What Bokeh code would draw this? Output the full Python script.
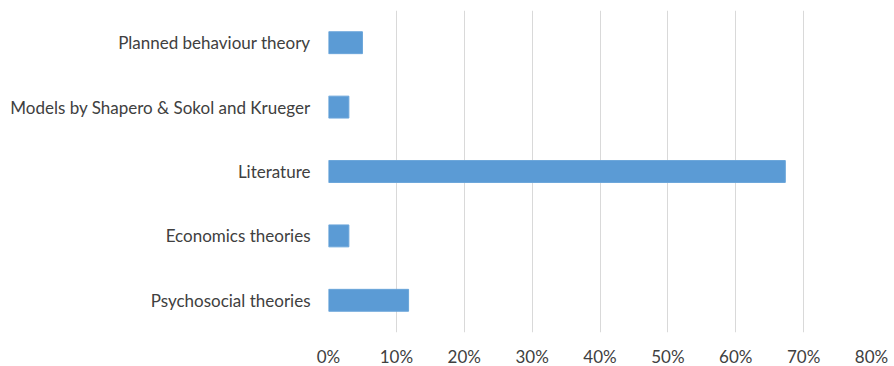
from bokeh.plotting import figure
from bokeh.models import FactorRange, FixedTicker, CustomJSTickFormatter
from bokeh.embed import file_html
from bokeh.resources import INLINE

# Share of studies by theoretical basis (percent)
categories = [
    "Psychosocial theories",
    "Economics theories",
    "Literature",
    "Models by Shapero & Sokol and Krueger",
    "Planned behaviour theory",
]
shares = [11.8, 3.0, 67.3, 3.0, 5.0]
x_ticks = [0, 10, 20, 30, 40, 50, 60, 70, 80]

FONT = "Lato"
TEXT_COLOR = "#404040"

p = figure(
    y_range=FactorRange(factors=categories),
    x_range=(0, 80),
    frame_width=543,
    frame_height=322,
    min_border_left=328,
    min_border_right=23,
    min_border_top=10,
    min_border_bottom=30,
    output_backend="svg",
    toolbar_location=None,
    background_fill_color="white",
    border_fill_color="white",
)
p.outline_line_color = None

p.hbar(y=categories, right=shares, left=0, height=0.34,
       fill_color="#5B9BD5", line_color="#6aa5da", line_width=1)

# x axis: percent ticks with vertical gridlines
p.xaxis.ticker = FixedTicker(ticks=x_ticks)
p.xaxis.formatter = CustomJSTickFormatter(code="return tick + '%';")
p.xaxis.axis_line_color = None
p.xaxis.major_tick_line_color = None
p.xaxis.minor_tick_line_color = None
p.xaxis.major_tick_out = 0
p.xaxis.major_tick_in = 0
p.xaxis.major_label_standoff = 13
p.xaxis.major_label_text_font = FONT
p.xaxis.major_label_text_font_size = "17px"
p.xaxis.major_label_text_color = TEXT_COLOR

p.xgrid.grid_line_color = "#D9D9D9"
p.xgrid.grid_line_width = 1
p.ygrid.grid_line_color = None

# y axis: category names
p.yaxis.axis_line_color = None
p.yaxis.major_tick_line_color = None
p.yaxis.minor_tick_line_color = None
p.yaxis.major_tick_out = 0
p.yaxis.major_tick_in = 0
p.yaxis.major_label_standoff = 18
p.yaxis.major_label_text_font = FONT
p.yaxis.major_label_text_font_size = "17px"
p.yaxis.major_label_text_color = TEXT_COLOR

open("out.html", "w").write(file_html(p, INLINE))
